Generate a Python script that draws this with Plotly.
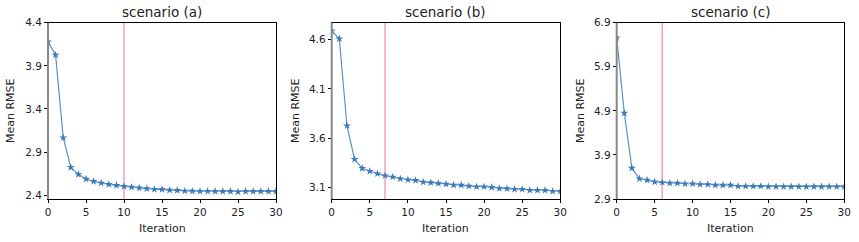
import plotly.graph_objects as go

iterations = list(range(31))
rmse_a = [4.18, 4.026, 3.067, 2.724, 2.643, 2.589, 2.562, 2.543, 2.527, 2.516, 2.504,
          2.495, 2.487, 2.478, 2.470, 2.468, 2.460, 2.458, 2.450, 2.448, 2.447, 2.447,
          2.446, 2.446, 2.446, 2.440, 2.446, 2.446, 2.446, 2.446, 2.446]
rmse_b = [4.69, 4.61, 3.726, 3.385, 3.293, 3.263, 3.238, 3.218, 3.205, 3.187, 3.177,
          3.170, 3.154, 3.147, 3.140, 3.133, 3.123, 3.123, 3.113, 3.106, 3.106, 3.100,
          3.090, 3.086, 3.080, 3.080, 3.070, 3.070, 3.070, 3.060, 3.060]
rmse_c = [6.56, 4.85, 3.60, 3.36, 3.33, 3.29, 3.276, 3.26, 3.26, 3.246, 3.246,
          3.23, 3.23, 3.215, 3.215, 3.215, 3.19, 3.19, 3.19, 3.19, 3.18, 3.18,
          3.18, 3.18, 3.18, 3.18, 3.18, 3.18, 3.18, 3.18, 3.18]
titles = ["scenario (a)", "scenario (b)", "scenario (c)"]
vlines = [10, 7, 6]
yranges = [[2.357, 4.4], [2.981, 4.773], [2.9, 6.9]]
yticks = [[2.4, 2.9, 3.4, 3.9, 4.4], [3.1, 3.6, 4.1, 4.6], [2.9, 3.9, 4.9, 5.9, 6.9]]
xticks = [0, 5, 10, 15, 20, 25, 30]

W, H = 859, 242
xdomains = [[48 / W, 276 / W], [331.7 / W, 560.3 / W], [616.7 / W, 844.3 / W]]
ydomain = [1 - 199 / H, 1 - 22.7 / H]
ylabel_x = [10, 295, 580]

fig = go.Figure()
series = [rmse_a, rmse_b, rmse_c]
font = "DejaVu Sans"
txt = "#222222"
shapes = []
annotations = []
for i in range(3):
    sx = "" if i == 0 else str(i + 1)
    fig.add_trace(go.Scatter(
        x=iterations, y=series[i], mode="lines+markers",
        line=dict(color="#5a92c8", width=1.2),
        marker=dict(symbol="star", size=6, color="#3d7ab8"),
        xaxis="x" + sx, yaxis="y" + sx, showlegend=False,
    ))
    fig.update_layout(**{
        "xaxis" + sx: dict(
            domain=xdomains[i], range=[0, 30], tickvals=xticks,
            ticktext=[str(t) for t in xticks], anchor="y" + sx, automargin=False,
            showgrid=False, zeroline=False, showline=True, mirror=True,
            linecolor="black", linewidth=1, ticks="outside", ticklen=3,
            tickcolor="black", tickfont=dict(family=font, size=10.5, color=txt),
        ),
        "yaxis" + sx: dict(
            domain=ydomain, range=yranges[i], tickvals=yticks[i],
            ticktext=[f"{t:.1f}" for t in yticks[i]], anchor="x" + sx, automargin=False,
            showgrid=False, zeroline=False, showline=True, mirror=True,
            linecolor="black", linewidth=1, ticks="outside", ticklen=3,
            tickcolor="black", tickfont=dict(family=font, size=10.5, color=txt),
        ),
    })
    shapes.append(dict(type="line", xref="x" + sx, yref="y" + sx + " domain",
                       x0=vlines[i], x1=vlines[i], y0=0, y1=1,
                       line=dict(color="#f0a0bf", width=1.5), layer="below"))
    shapes.append(dict(type="line", xref="x" + sx + " domain", yref="y" + sx + " domain",
                       x0=0, x1=0, y0=0, y1=1,
                       line=dict(color="#888888", width=2), layer="above"))
    annotations.append(dict(text=titles[i], xref="paper", yref="paper",
                            x=(xdomains[i][0] + xdomains[i][1]) / 2, y=1 - 12 / H,
                            xanchor="center", yanchor="middle", showarrow=False,
                            font=dict(family=font, size=13.5, color=txt)))
    annotations.append(dict(text="Iteration", xref="paper", yref="paper",
                            x=(xdomains[i][0] + xdomains[i][1]) / 2, y=1 - 228 / H,
                            xanchor="center", yanchor="middle", showarrow=False,
                            font=dict(family=font, size=11, color=txt)))
    annotations.append(dict(text="Mean RMSE", xref="paper", yref="paper",
                            x=ylabel_x[i] / W, y=1 - 111 / H, textangle=-90,
                            xanchor="center", yanchor="middle", showarrow=False,
                            font=dict(family=font, size=11, color=txt)))

fig.update_layout(width=W, height=H, margin=dict(l=0, r=0, t=0, b=0),
                  plot_bgcolor="white", paper_bgcolor="white",
                  shapes=shapes, annotations=annotations)
fig.write_html("out.html", config={"displayModeBar": False})

with open("out.html", "r", encoding="utf-8") as f:
    html = f.read()
html = html.replace("<head>", "<head><style>html,body{margin:0;padding:0;overflow:hidden;}</style>", 1)
with open("out.html", "w", encoding="utf-8") as f:
    f.write(html)
